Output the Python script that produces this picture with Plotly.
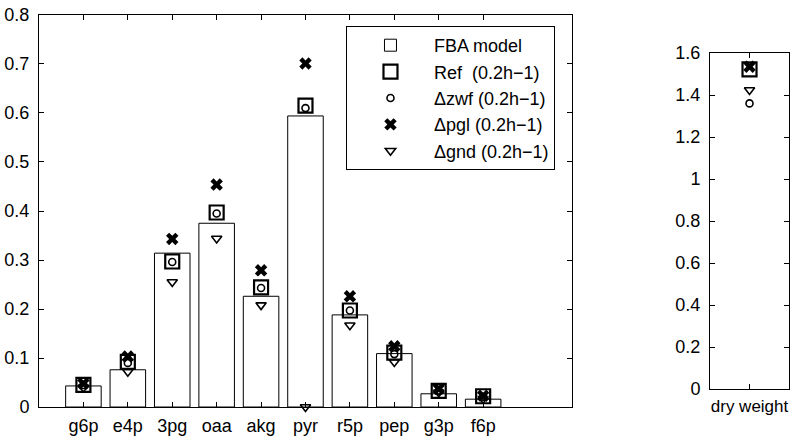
import plotly.graph_objects as go

categories = ["g6p", "e4p", "3pg", "oaa", "akg", "pyr", "r5p", "pep", "g3p", "f6p"]
fba_model = [0.043, 0.076, 0.314, 0.375, 0.226, 0.594, 0.188, 0.109, 0.027, 0.016]
ref_vals = [0.045, 0.092, 0.297, 0.397, 0.244, 0.615, 0.197, 0.111, 0.033, 0.022]
zwf_vals = [0.045, 0.090, 0.296, 0.395, 0.243, 0.610, 0.197, 0.108, 0.033, 0.021]
pgl_vals = [0.048, 0.103, 0.343, 0.454, 0.279, 0.701, 0.226, 0.124, 0.037, 0.023]
gnd_vals = [0.040, 0.072, 0.255, 0.344, 0.208, 0.000, 0.167, 0.092, 0.030, 0.017]

dw_category = ["dry weight"]
dw_ref = [1.522]
dw_zwf = [1.360]
dw_pgl = [1.535]
dw_gnd = [1.424]

left_yticks = [0, 0.1, 0.2, 0.3, 0.4, 0.5, 0.6, 0.7, 0.8]
right_yticks = [0, 0.2, 0.4, 0.6, 0.8, 1, 1.2, 1.4, 1.6]

FONT = "Liberation Sans, Arial, Helvetica, sans-serif"
FS = 18

series = [
    ("Ref\u00a0\u00a0(0.2h\u22121)", ref_vals, dw_ref,
     dict(symbol="square-open", size=14, color="black", line=dict(width=2.2, color="black"))),
    ("\u0394zwf (0.2h\u22121)", zwf_vals, dw_zwf,
     dict(symbol="circle-open", size=7, color="black", line=dict(width=1.6, color="black"))),
    ("\u0394pgl (0.2h\u22121)", pgl_vals, dw_pgl,
     dict(symbol="x", size=11, color="black", line=dict(width=0))),
    ("\u0394gnd (0.2h\u22121)", gnd_vals, dw_gnd,
     dict(symbol="triangle-down-open", size=9, color="black", line=dict(width=1.6, color="black"))),
]

fig = go.Figure()
fig.add_trace(go.Bar(
    x=categories, y=fba_model, name="FBA model", width=0.8,
    marker=dict(color="white", line=dict(color="black", width=1)),
    xaxis="x", yaxis="y",
))
for name, vals, dw, mk in series:
    fig.add_trace(go.Scatter(x=categories, y=vals, name=name, mode="markers",
                             marker=mk, xaxis="x", yaxis="y", cliponaxis=False))
for name, vals, dw, mk in series:
    fig.add_trace(go.Scatter(x=dw_category, y=dw, name=name, mode="markers",
                             marker=mk, xaxis="x2", yaxis="y2", showlegend=False,
                             cliponaxis=False))

def axis_common(fs=FS):
    return dict(showline=True, linecolor="black", linewidth=1, mirror="ticks",
                ticks="inside", ticklen=5, tickcolor="black", showgrid=False,
                zeroline=False, automargin=False, ticklabeloverflow="allow",
                tickfont=dict(family=FONT, size=fs, color="black"))

fig.update_layout(
    width=791, height=437,
    margin=dict(l=0, r=0, t=0, b=0, pad=0, autoexpand=False),
    paper_bgcolor="white", plot_bgcolor="white",
    font=dict(family=FONT, size=FS, color="black"),
    bargap=0.2,
    xaxis=dict(domain=[0.0493, 0.7231], range=[-1, 11], type="category",
               categoryorder="array", categoryarray=categories,
               ticklabelstandoff=2, **axis_common()),
    yaxis=dict(domain=[0.0686, 0.9657], range=[0, 0.8], tickvals=left_yticks,
               ticklabelstandoff=5, **axis_common()),
    xaxis2=dict(domain=[0.8976, 0.9975], range=[-1, 1], type="category",
                anchor="y2", ticklabelstandoff=2, **axis_common(17)),
    yaxis2=dict(domain=[0.1098, 0.8787], range=[0, 1.6], tickvals=right_yticks,
                anchor="x2", ticklabelstandoff=5, **axis_common()),
    legend=dict(x=0.4374, y=0.9405, xanchor="left", yanchor="top",
                bordercolor="black", borderwidth=1, bgcolor="white",
                itemwidth=77, font=dict(family=FONT, size=FS, color="black"),
                tracegroupgap=0),
    showlegend=True,
)

fig.write_html("out.html", config={"displayModeBar": False},
               post_script="document.body.style.margin='0';")
